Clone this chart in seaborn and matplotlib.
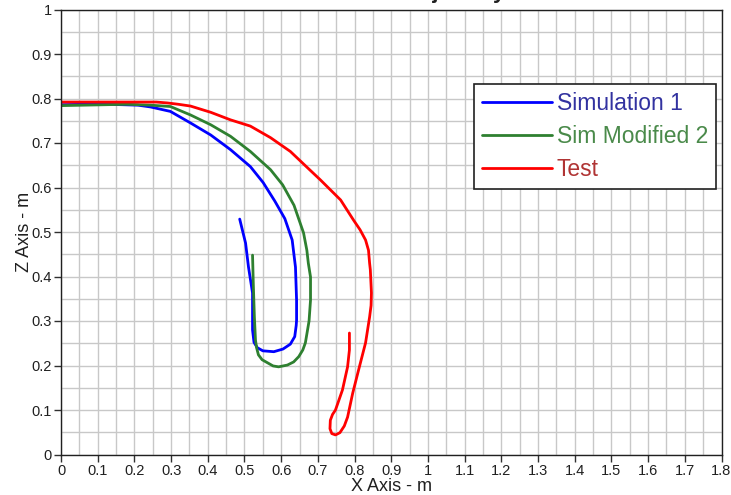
import matplotlib
matplotlib.use("Agg")
import matplotlib.pyplot as plt
import seaborn as sns
from matplotlib.ticker import MultipleLocator, FixedLocator, FixedFormatter

sns.set_style("white")
plt.rcParams['font.family'] = ['Liberation Sans', 'DejaVu Sans']

# ---------------- data ----------------
series_names = ["Simulation 1", "Sim Modified 2", "Test"]

sim1_x = [0.0, 0.06, 0.12, 0.17, 0.21, 0.244, 0.298, 0.353, 0.408, 0.462, 0.516, 0.551, 0.583,
          0.610, 0.630, 0.639, 0.642, 0.642, 0.641, 0.637, 0.625, 0.605, 0.580, 0.550, 0.535,
          0.526, 0.522, 0.522, 0.522, 0.511, 0.503, 0.487]
sim1_z = [0.786, 0.787, 0.787, 0.786, 0.785, 0.781, 0.771, 0.745, 0.718, 0.685, 0.647, 0.611, 0.569,
          0.530, 0.482, 0.421, 0.347, 0.302, 0.290, 0.265, 0.248, 0.237, 0.231, 0.233, 0.240,
          0.252, 0.280, 0.309, 0.363, 0.421, 0.475, 0.529]

sim2_x = [0.0, 0.06, 0.12, 0.18, 0.244, 0.298, 0.353, 0.408, 0.462, 0.516, 0.571, 0.604, 0.635,
          0.661, 0.670, 0.674, 0.680, 0.680, 0.676, 0.666, 0.659, 0.648, 0.634, 0.617, 0.593,
          0.578, 0.563, 0.548, 0.538, 0.533, 0.530, 0.527, 0.524, 0.522]
sim2_z = [0.784, 0.785, 0.786, 0.787, 0.785, 0.782, 0.763, 0.741, 0.715, 0.681, 0.640, 0.606, 0.560,
          0.498, 0.459, 0.430, 0.399, 0.347, 0.300, 0.251, 0.235, 0.220, 0.208, 0.201, 0.197,
          0.199, 0.206, 0.213, 0.224, 0.240, 0.257, 0.309, 0.385, 0.448]

test_x = [0.0, 0.10, 0.20, 0.26, 0.29, 0.32, 0.353, 0.408, 0.462, 0.516, 0.571, 0.625, 0.680, 0.707,
          0.762, 0.797, 0.815, 0.830, 0.838, 0.841, 0.843, 0.846, 0.845, 0.841, 0.830, 0.811,
          0.795, 0.781, 0.772, 0.760, 0.748, 0.738, 0.733, 0.734, 0.740, 0.748, 0.767, 0.781,
          0.786, 0.786]
test_z = [0.792, 0.792, 0.792, 0.792, 0.790, 0.787, 0.783, 0.769, 0.752, 0.738, 0.712, 0.681, 0.638,
          0.617, 0.572, 0.527, 0.505, 0.482, 0.459, 0.430, 0.415, 0.363, 0.335, 0.309, 0.251,
          0.190, 0.138, 0.084, 0.064, 0.049, 0.044, 0.047, 0.058, 0.077, 0.090, 0.100, 0.145,
          0.197, 0.235, 0.273]

x_ticks = [0, 0.1, 0.2, 0.3, 0.4, 0.5, 0.6, 0.7, 0.8, 0.9, 1.0, 1.1, 1.2, 1.3, 1.4, 1.5, 1.6, 1.7, 1.8]
x_tick_labels = ["0", "0.1", "0.2", "0.3", "0.4", "0.5", "0.6", "0.7", "0.8", "0.9", "1",
                 "1.1", "1.2", "1.3", "1.4", "1.5", "1.6", "1.7", "1.8"]
y_ticks = [0, 0.1, 0.2, 0.3, 0.4, 0.5, 0.6, 0.7, 0.8, 0.9, 1.0]
y_tick_labels = ["0", "0.1", "0.2", "0.3", "0.4", "0.5", "0.6", "0.7", "0.8", "0.9", "1"]

title_text = "Trajectory"
x_label = "X Axis - m"
y_label = "Z Axis - m"

# ---------------- figure ----------------
fig = plt.figure(figsize=(7.31, 4.95), dpi=100)
W, H = 731, 495
left_px, right_px, top_px, bottom_px = 61, 721.5, 9.5, 454.5
ax = fig.add_axes([left_px / W, (H - bottom_px) / H, (right_px - left_px) / W, (bottom_px - top_px) / H])

line_colors = ["#0000ff", "#2e8030", "#ff0000"]
text_colors = ["#3232a0", "#4a8a4a", "#b03434"]

for xs, zs, name, col in zip([sim1_x, sim2_x, test_x], [sim1_z, sim2_z, test_z], series_names, line_colors):
    sns.lineplot(x=xs, y=zs, sort=False, estimator=None, color=col, linewidth=2.0,
                 label=name, ax=ax)

ax.set_xlim(0, 1.8)
ax.set_ylim(0, 1.0)
ax.xaxis.set_major_locator(FixedLocator(x_ticks))
ax.xaxis.set_major_formatter(FixedFormatter(x_tick_labels))
ax.yaxis.set_major_locator(FixedLocator(y_ticks))
ax.yaxis.set_major_formatter(FixedFormatter(y_tick_labels))
ax.xaxis.set_minor_locator(MultipleLocator(0.05))
ax.yaxis.set_minor_locator(MultipleLocator(0.05))
ax.grid(which="both", color="#c8c8c8", linewidth=1.0)
ax.set_axisbelow(True)
ax.tick_params(which="major", direction="out", length=5, width=1, color="#303030",
               labelsize=10.5, labelcolor="#202020", left=True, bottom=True, pad=1.5)
ax.tick_params(which="minor", length=0)
for sp in ax.spines.values():
    sp.set_visible(True)
    sp.set_color("#202020")
    sp.set_linewidth(1.0)

ax.set_xlabel(x_label, fontsize=13, color="#202020", labelpad=0)
ax.set_ylabel(y_label, fontsize=13, color="#202020", labelpad=-1)

leg = ax.legend(loc="upper right",
                bbox_to_anchor=((716 - left_px) / (right_px - left_px), (bottom_px - 84) / (bottom_px - top_px)),
                borderaxespad=0, fontsize=16.5, frameon=True, fancybox=False, shadow=False,
                handlelength=3.05, handletextpad=0.22, labelspacing=0.44, borderpad=0.35)
leg.get_frame().set_edgecolor("#202020")
leg.get_frame().set_linewidth(1.2)
leg.get_frame().set_facecolor("white")
leg.get_frame().set_alpha(1.0)
for txt, col in zip(leg.get_texts(), text_colors):
    txt.set_color(col)

fig.text(400 / W, 1.0 + 2.0 / H, title_text, ha="left", va="baseline", fontsize=16,
         fontweight="bold", color="#202020")

fig.savefig("out.png", dpi=100, facecolor="white")
